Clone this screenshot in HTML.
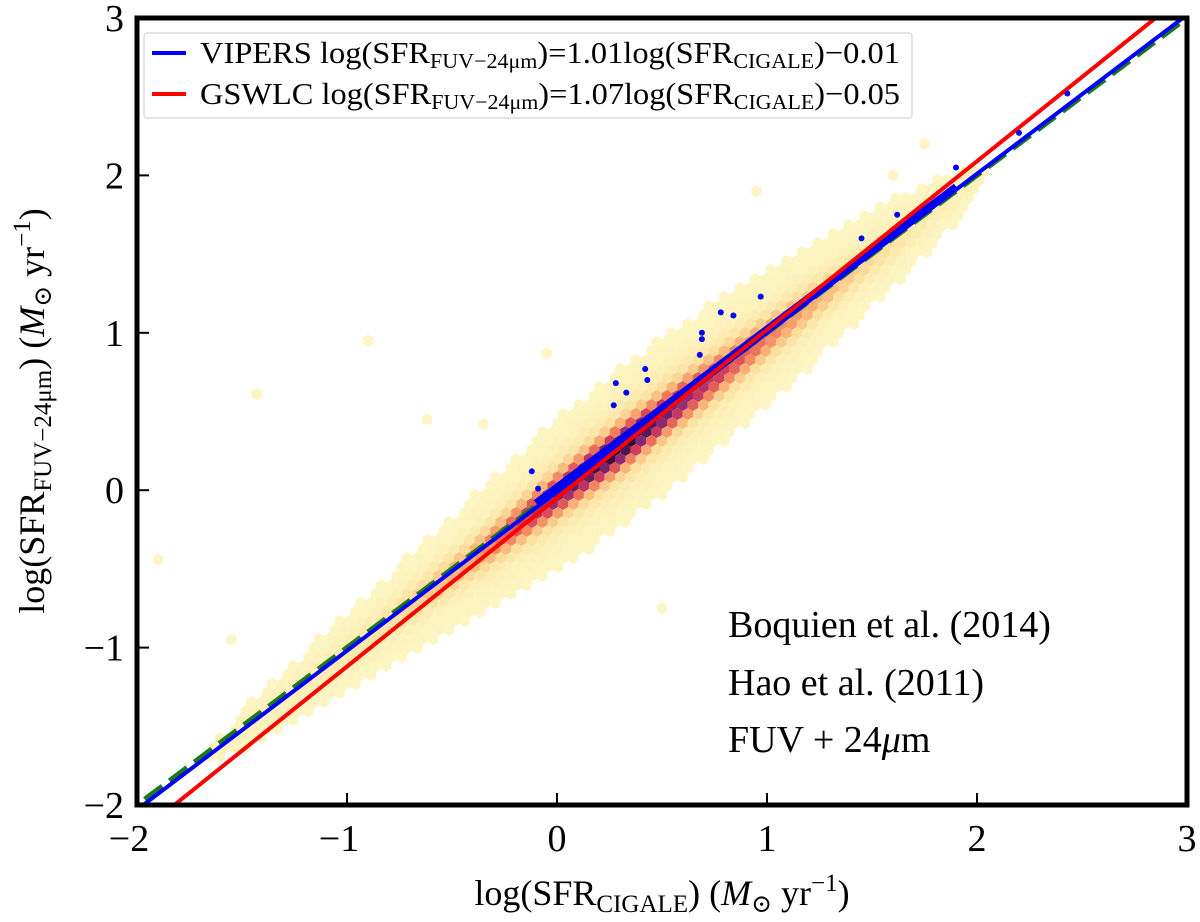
<!DOCTYPE html>
<html><head><meta charset="utf-8"><style>
html,body{margin:0;padding:0;background:#fff;}
svg{display:block;font-family:"Liberation Serif","DejaVu Serif",serif;}
</style></head><body>
<svg id="chart" width="1200" height="922" viewBox="0 0 1200 922" xmlns="http://www.w3.org/2000/svg">
<defs><clipPath id="clip"><rect x="137" y="18" width="1050" height="787"/></clipPath></defs>
<g id="hexes" clip-path="url(#clip)"></g>
<g id="lines" clip-path="url(#clip)"></g>
<g id="points" clip-path="url(#clip)"></g>
<rect x="137" y="18" width="1050" height="787" fill="none" stroke="#000" stroke-width="5"/>
<g id="ticks"></g>
<g>
<rect x="144" y="33" width="768" height="85" fill="#fff" fill-opacity="0.85" stroke="#ddd" stroke-width="1.5" rx="3"/>
<line x1="152" y1="53" x2="186" y2="53" stroke="#0000ff" stroke-width="4"/>
<text x="200" y="63" font-size="31" textLength="700" lengthAdjust="spacingAndGlyphs">VIPERS log(SFR<tspan font-size="21" dy="5">FUV−24μm</tspan><tspan dy="-5">)=1.01log(SFR</tspan><tspan font-size="21" dy="5">CIGALE</tspan><tspan dy="-5">)−0.01</tspan></text>
<line x1="152" y1="94" x2="186" y2="94" stroke="#ff0000" stroke-width="4"/>
<text x="200" y="104" font-size="31" textLength="700" lengthAdjust="spacingAndGlyphs">GSWLC log(SFR<tspan font-size="21" dy="5">FUV−24μm</tspan><tspan dy="-5">)=1.07log(SFR</tspan><tspan font-size="21" dy="5">CIGALE</tspan><tspan dy="-5">)−0.05</tspan></text>
</g>
<g font-size="38">
<text x="728" y="637">Boquien et al. (2014)</text>
<text x="728" y="695">Hao et al. (2011)</text>
<text x="728" y="752">FUV + 24<tspan font-style="italic">μ</tspan>m</text>
</g>
<text x="662" y="905" font-size="36" text-anchor="middle">log(SFR<tspan font-size="25" dy="7">CIGALE</tspan><tspan dy="-7">) (</tspan><tspan font-style="italic">M</tspan><tspan font-size="25" dy="7">⊙</tspan><tspan dy="-7"> yr</tspan><tspan font-size="25" dy="-14">−1</tspan><tspan dy="14">)</tspan></text>
<text transform="translate(44,411) rotate(-90)" font-size="36" text-anchor="middle">log(SFR<tspan font-size="25" dy="7">FUV−24μm</tspan><tspan dy="-7">) (</tspan><tspan font-style="italic">M</tspan><tspan font-size="25" dy="7">⊙</tspan><tspan dy="-7"> yr</tspan><tspan font-size="25" dy="-14">−1</tspan><tspan dy="14">)</tspan></text>
</svg>
<script>
const xTicks=[-2,-1,0,1,2,3];
const yTicks=[-2,-1,0,1,2,3];
const tickLabels=["−2","−1","0","1","2","3"];
// density profile along the one-to-one line
const bandX=[-2.0,-1.6,-1.2,-0.8,-0.4,0.0,0.3,0.6,1.0,1.4,1.8,2.1,2.3];
const bandAmp=[0.0,0.03,0.07,0.15,0.35,0.8,1.0,0.75,0.45,0.22,0.07,0.02,0.0];
const bandWidth=[0.14,0.18,0.2,0.22,0.24,0.26,0.27,0.27,0.26,0.23,0.2,0.17,0.15];
// sparse isolated outlier hexbins
const sparseX=[-1.43,-0.9,-1.9,-1.55,-0.62,-0.35,1.75,1.6,0.95,-0.05,0.5];
const sparseY=[0.61,0.95,-0.44,-0.95,0.45,0.42,2.2,2.0,1.9,0.87,-0.75];
const fitVipers=[1.01,-0.01];
const fitGswlc=[1.07,-0.05];
const outX=[-0.12,-0.09,0.27,0.28,0.33,0.42,0.43,0.68,0.69,0.69,0.78,0.84,0.97,1.45,1.62,1.9,2.2,2.43];
const outY=[0.12,0.01,0.54,0.68,0.62,0.77,0.70,0.86,0.96,1.00,1.13,1.11,1.23,1.60,1.75,2.05,2.27,2.52];
const NS="http://www.w3.org/2000/svg";
const X=v=>137+(v+2)*210, Y=v=>805-(v+2)*157.4;
function interp(a,x){if(x<=bandX[0])return a[0];for(let i=1;i<bandX.length;i++){if(x<=bandX[i]){const t=(x-bandX[i-1])/(bandX[i]-bandX[i-1]);return a[i-1]+t*(a[i]-a[i-1]);}}return a[a.length-1];}
const stops=[[0,[253,246,196]],[0.15,[252,226,160]],[0.3,[250,180,120]],[0.45,[240,120,90]],[0.6,[210,60,90]],[0.75,[140,40,120]],[0.9,[70,20,80]],[1,[20,10,30]]];
function cmap(d){for(let i=1;i<stops.length;i++){if(d<=stops[i][0]){const t=(d-stops[i-1][0])/(stops[i][0]-stops[i-1][0]);const a=stops[i-1][1],b=stops[i][1];return `rgb(${a.map((c,k)=>Math.round(c+t*(b[k]-c))).join(',')})`;}}return 'rgb(20,10,30)';}
const hg=document.getElementById('hexes');
const r=6;const dx=r*Math.sqrt(3);
function hex(px,py,fill){
  const p=document.createElementNS(NS,'polygon');
  let pts=[];for(let k=0;k<6;k++){const ang=Math.PI/6+k*Math.PI/3;pts.push((px+r*Math.cos(ang)).toFixed(1)+','+(py+r*Math.sin(ang)).toFixed(1));}
  p.setAttribute('points',pts.join(' '));
  p.setAttribute('fill',fill);
  
  
  hg.appendChild(p);
}
for(let row=0;row*r*1.5<800;row++){
  const py=18+row*r*1.5;
  for(let col=0;col*dx<1070;col++){
    const px=137+col*dx+(row%2?dx/2:0);
    const x=(px-137)/210-2, y=(805-py)/157.4-2;
    const res=y-(x-0.03);
    const w=interp(bandWidth,x), a=interp(bandAmp,x);
    const core=Math.exp(-Math.pow(res/(w*0.45),2));
    const halo=Math.exp(-Math.pow(res/w,2));
    const d=a*(0.8*core+0.2*halo);
    if(a*halo<0.025) continue;
    hex(px,py,cmap(Math.min(1,d)));
  }
}
sparseX.forEach((v,i)=>hex(X(v),Y(sparseY[i]),'rgb(253,246,196)'));
const lg=document.getElementById('lines');
function line(m,b,color,w,dash,name){const l=document.createElementNS(NS,'line');
l.setAttribute('x1',X(-2.2));l.setAttribute('y1',Y(m*-2.2+b));l.setAttribute('x2',X(3.2));l.setAttribute('y2',Y(m*3.2+b));
l.setAttribute('stroke',color);l.setAttribute('stroke-width',w);if(dash)l.setAttribute('stroke-dasharray',dash);


lg.appendChild(l);}
line(1,0,'#1a7a1a',5,'22 9','one-to-one-line');
const ridge=document.createElementNS(NS,'line');
ridge.setAttribute('x1',X(-0.1));ridge.setAttribute('y1',Y(fitVipers[0]*-0.1+fitVipers[1]+0.03));ridge.setAttribute('x2',X(1.9));ridge.setAttribute('y2',Y(fitVipers[0]*1.9+fitVipers[1]+0.02));
ridge.setAttribute('stroke','#0000ee');ridge.setAttribute('stroke-width','7');


lg.appendChild(ridge);
line(fitVipers[0],fitVipers[1],'#0000ff',4,null,'vipers-fit-line');
line(fitGswlc[0],fitGswlc[1],'#ff0000',4,null,'gswlc-fit-line');
const pg=document.getElementById('points');
outX.forEach((v,i)=>{const c=document.createElementNS(NS,'circle');c.setAttribute('cx',X(v));c.setAttribute('cy',Y(outY[i]));c.setAttribute('r',3);c.setAttribute('fill','#0000ff');


pg.appendChild(c);});
const tg=document.getElementById('ticks');
xTicks.forEach((v,i)=>{
  const t=document.createElementNS(NS,'line');t.setAttribute('x1',X(v));t.setAttribute('x2',X(v));t.setAttribute('y1',805);t.setAttribute('y2',793);t.setAttribute('stroke','#000');t.setAttribute('stroke-width',2);
  
  
  tg.appendChild(t);
  const s=document.createElementNS(NS,'text');s.setAttribute('x',X(v)+(v<0?-8:0));s.setAttribute('y',851);s.setAttribute('font-size',38);s.setAttribute('text-anchor','middle');s.textContent=tickLabels[i];
  
  
  tg.appendChild(s);
});
yTicks.forEach((v,i)=>{
  const t=document.createElementNS(NS,'line');t.setAttribute('x1',137);t.setAttribute('x2',149);t.setAttribute('y1',Y(v));t.setAttribute('y2',Y(v));t.setAttribute('stroke','#000');t.setAttribute('stroke-width',2);
  
  
  tg.appendChild(t);
  const s=document.createElementNS(NS,'text');s.setAttribute('x',124);s.setAttribute('y',Y(v)+13);s.setAttribute('font-size',38);s.setAttribute('text-anchor','end');s.textContent=tickLabels[i];
  
  
  tg.appendChild(s);
});
</script>
</body></html>
